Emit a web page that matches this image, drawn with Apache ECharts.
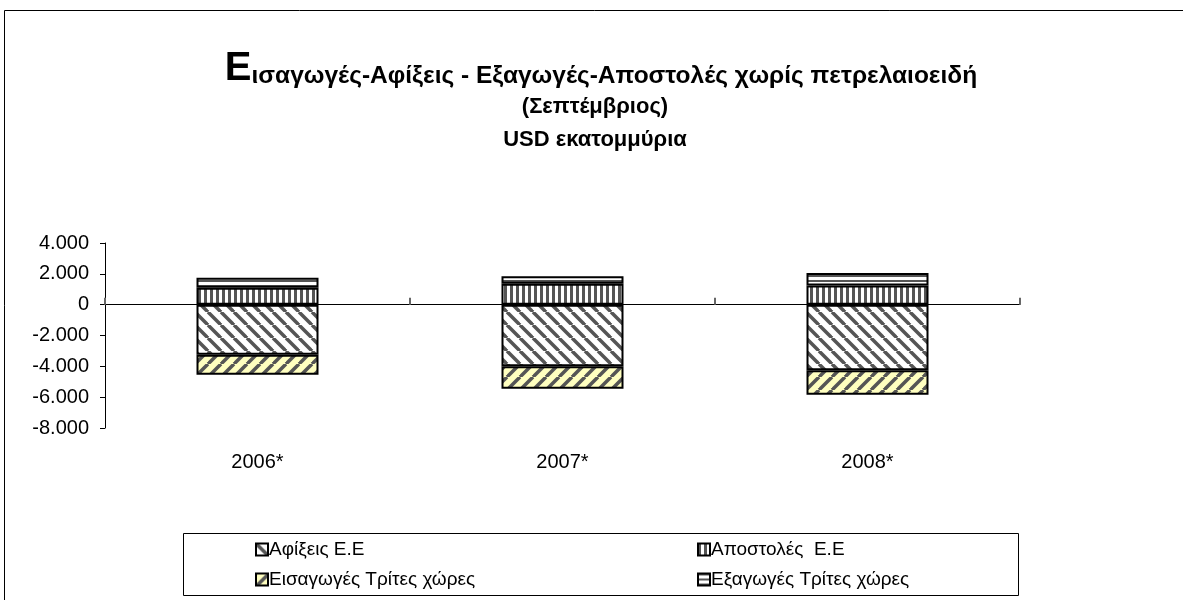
<!DOCTYPE html>
<html><head><meta charset="utf-8">
<script src="https://cdn.jsdelivr.net/npm/echarts@6/dist/echarts.min.js"></script>
<style>html,body{margin:0;padding:0;background:#fff}#c{width:1183px;height:600px}</style>
</head><body><div id="c"></div>
<script>
const categories = ['2006*', '2007*', '2008*'];
const afixeis = [-3250, -4000, -4250];
const apostoles = [1100, 1350, 1250];
const eisagoges = [-1300, -1450, -1600];
const exagoges = [650, 500, 800];
const yTicks = { min: -8000, max: 4000, interval: 2000 };
const seriesNames = ['Αφίξεις Ε.Ε', 'Αποστολές  Ε.Ε', 'Εισαγωγές Τρίτες χώρες', 'Εξαγωγές Τρίτες χώρες'];

function pattern(w, h, bg, draw) {
  const c = document.createElement('canvas');
  c.width = w; c.height = h;
  const g = c.getContext('2d');
  g.fillStyle = bg; g.fillRect(0, 0, w, h);
  draw(g);
  return { image: c, repeat: 'repeat' };
}
function diag(g, s, color, dir) {
  g.strokeStyle = color; g.lineWidth = 3.5;
  for (let k = -1; k <= 1; k++) {
    g.beginPath();
    if (dir > 0) { g.moveTo(k * s, 0); g.lineTo(k * s + s, s); }
    else { g.moveTo(k * s + s, 0); g.lineTo(k * s, s); }
    g.stroke();
  }
}
const patAfix = pattern(13, 13, '#ffffff', g => diag(g, 13, '#555555', 1));
const patEisag = pattern(13, 13, '#ffffc0', g => diag(g, 13, '#555555', -1));
const patApost = pattern(6, 4, '#ffffff', g => { g.fillStyle = '#555555'; g.fillRect(0, 0, 3, 4); });
const patExag = pattern(4, 5, '#ffffff', g => { g.fillStyle = '#555555'; g.fillRect(0, 0, 4, 2); });

const border = { borderColor: '#000', borderWidth: 2 };
function bar(name, data, color) {
  return { name, type: 'bar', stack: 'total', data, barWidth: '40%',
    itemStyle: Object.assign({ color }, border), emphasis: { disabled: true } };
}
const FF = 'Liberation Sans';
const legendText = { fontSize: 19, color: '#000', fontFamily: FF, padding: [0, 0, 0, -4] };

const chart = echarts.init(document.getElementById('c'), null, { renderer: 'canvas' });
chart.setOption({
  animation: false,
  backgroundColor: '#fff',
  textStyle: { fontFamily: FF },
  title: [
    { text: '{big|Ε}{n|ισαγωγές-Αφίξεις - Εξαγωγές-Αποστολές χωρίς πετρελαιοειδή}', left: 596, top: 44, textAlign: 'center',
      textStyle: { rich: {
        big: { fontSize: 40, fontWeight: 'bold', color: '#000', fontFamily: FF },
        n: { fontSize: 24.5, fontWeight: 'bold', color: '#000', fontFamily: FF, verticalAlign: 'bottom' } } } },
    { text: '(Σεπτέμβριος)', left: 590, top: 91, textAlign: 'center',
      textStyle: { fontSize: 22, fontWeight: 'bold', color: '#000', fontFamily: FF } },
    { text: 'USD εκατομμύρια', left: 590, top: 124, textAlign: 'center',
      textStyle: { fontSize: 22, fontWeight: 'bold', color: '#000', fontFamily: FF } }
  ],
  graphic: [
    { type: 'rect', shape: { x: 4.5, y: 10.5, width: 1200, height: 700 }, style: { fill: 'none', stroke: '#000', lineWidth: 1 }, silent: true },
    { type: 'rect', shape: { x: 183.5, y: 533.5, width: 835, height: 62 }, style: { fill: 'none', stroke: '#000', lineWidth: 1 }, silent: true }
  ],
  legend: [
    { orient: 'vertical', left: 250, top: 535, itemWidth: 12, itemHeight: 12, itemGap: 11, icon: 'rect',
      data: [seriesNames[0], seriesNames[2]], textStyle: legendText, selectedMode: false },
    { orient: 'vertical', left: 692, top: 535, itemWidth: 12, itemHeight: 12, itemGap: 11, icon: 'rect',
      data: [seriesNames[1], seriesNames[3]], textStyle: legendText, selectedMode: false }
  ],
  grid: { left: 105, right: 163, top: 243, bottom: 172, containLabel: false },
  xAxis: [
    { type: 'category', data: categories, position: 'bottom',
      axisLine: { show: false, onZero: false }, axisTick: { show: false },
      axisLabel: { fontSize: 20, color: '#000', margin: 24, fontFamily: FF } },
    { type: 'category', data: categories, position: 'bottom',
      axisLine: { show: true, onZero: true, lineStyle: { color: '#000', width: 1 } },
      axisTick: { show: true, inside: true, length: 7, lineStyle: { color: '#666', width: 2 } },
      axisLabel: { show: false } }
  ],
  yAxis: {
    type: 'value', min: yTicks.min, max: yTicks.max, interval: yTicks.interval,
    axisLine: { show: true, onZero: false, lineStyle: { color: '#000' } },
    axisTick: { show: true, length: 5, lineStyle: { color: '#000' } },
    splitLine: { show: false },
    axisLabel: { fontSize: 20, color: '#000', margin: 16, fontFamily: FF,
      formatter: v => (v < 0 ? '-' : '') + (Math.abs(v) >= 1000 ? Math.floor(Math.abs(v) / 1000) + '.' + String(Math.abs(v) % 1000).padStart(3, '0') : String(Math.abs(v))) }
  },
  series: [
    bar(seriesNames[0], afixeis, patAfix),
    bar(seriesNames[1], apostoles, patApost),
    bar(seriesNames[2], eisagoges, patEisag),
    bar(seriesNames[3], exagoges, patExag)
  ]
});
</script></body></html>
